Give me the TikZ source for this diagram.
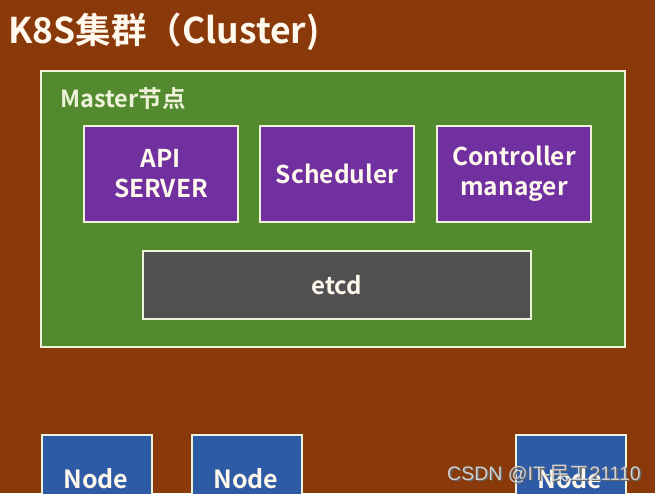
\documentclass[tikz,border=0pt]{standalone}
\usepackage{fontspec}
\setmainfont{Noto Sans CJK SC}[BoldFont={* Bold}]
\newfontfamily\wmfont{Liberation Sans}
\newfontfamily\wmcjk{Noto Sans CJK SC}
\definecolor{bgbrown}{HTML}{8A3A0A}
\definecolor{mgreen}{HTML}{538A30}
\definecolor{mpurple}{HTML}{7130A0}
\definecolor{mgray}{HTML}{505050}
\definecolor{mblue}{HTML}{2E5BA6}
\definecolor{edge}{HTML}{EEF2D8}
\definecolor{txt}{HTML}{FFF8EC}
\begin{document}
\begin{tikzpicture}[x=1pt,y=-1pt,
  box/.style={draw=edge, line width=2pt, text=txt, font=\bfseries\fontsize{24.5}{30}\selectfont, align=center, inner sep=0pt},
  purplebox/.style={box, fill=mpurple, minimum width=154pt, minimum height=96pt},
  graybox/.style={box, fill=mgray, minimum width=388pt, minimum height=68pt, font=\bfseries\fontsize{24}{28}\selectfont},
  nodebox/.style={box, fill=mblue, minimum width=110pt, minimum height=80pt},
  nodetext/.style={anchor=base, text=txt, font=\bfseries\fontsize{25}{28}\selectfont, inner sep=0pt},
  wm/.style={anchor=base west, font=\wmfont\fontsize{19.5}{22}\selectfont, inner sep=0pt}]
\useasboundingbox (0,0) rectangle (655,493);
\clip (0,0) rectangle (655,493);
\fill[bgbrown] (0,0) rectangle (655,493);
% master
\node[draw=edge, line width=2pt, fill=mgreen, minimum width=584pt, minimum height=276pt, inner sep=0pt] (master) at (333,209) {};
\node[anchor=base west, text=txt, font=\bfseries\fontsize{35.5}{40}\selectfont, inner sep=0pt] (title) at (8,43) {K8S集群（Cluster)};
\node[anchor=base west, text=edge, font=\bfseries\fontsize{23.5}{26}\selectfont, inner sep=0pt] (mlabel) at (60,107) {Master节点};
\node[purplebox] (api) at (161,174) {API\\SERVER};
\node[purplebox] (sched) at (337,174) {Scheduler};
\node[purplebox] (ctrl) at (514,174) {Controller\\manager};
\node[graybox] (etcd) at (337,285) {etcd};
% worker nodes
\node[nodebox] (n1) at (97,475) {};
\node[nodebox] (n2) at (247,475) {};
\node[nodebox] (n3) at (571,475) {};
\node[nodetext] (n1t) at (96,488) {Node};
\node[nodetext] (n2t) at (246,488) {Node};
\node[nodetext] (n3t) at (570,488) {Node};
% watermark
\node[wm, text=black!60] (wms) at (448.5,481.5) {CSDN @IT-{\wmcjk 民工}21110};
\node[wm, text=white!82!black] (wmt) at (447,480) {CSDN @IT-{\wmcjk 民工}21110};
\end{tikzpicture}
\end{document}
